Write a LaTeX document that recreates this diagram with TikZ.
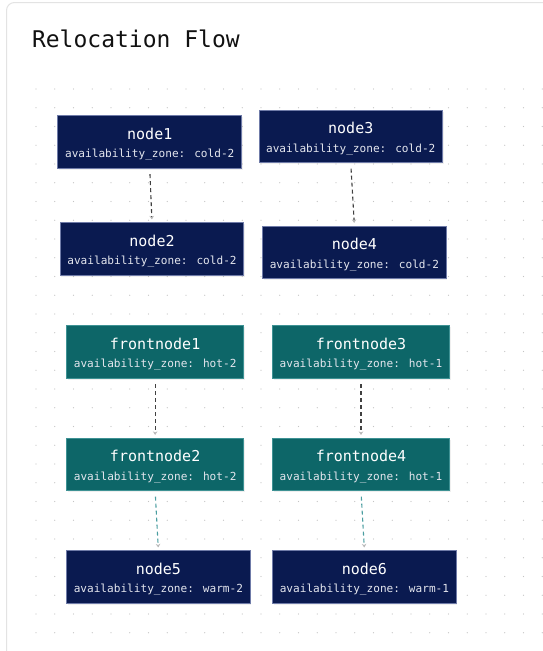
\documentclass[tikz,border=0pt]{standalone}
\usepackage{fontspec}
\usetikzlibrary{arrows.meta,shadows}
\newfontfamily\monofont{DejaVu Sans Mono}
\newcommand{\subfnt}{\monofont\fontsize{11.1}{16.5}\selectfont}
\newcommand{\namefnt}{\fontsize{15}{16.5}\selectfont}
\definecolor{navy}{HTML}{0A1A50}
\definecolor{navyedge}{HTML}{6F7BA8}
\definecolor{tealfill}{HTML}{0D6668}
\definecolor{tealedge}{HTML}{3E9294}
\definecolor{subtxt}{HTML}{E4E6EE}
\definecolor{darkdash}{HTML}{404040}
\definecolor{tealdash}{HTML}{4A9EA0}
\definecolor{dotcol}{HTML}{C4C4C4}
\definecolor{cardedge}{HTML}{E3E3E3}
\definecolor{titlecol}{HTML}{111111}
\tikzset{
  basebox/.style={rectangle, minimum height=52.5pt, inner sep=0pt, align=center,
    text=subtxt, font=\subfnt, line width=0.7pt,
    drop shadow={shadow xshift=1pt, shadow yshift=-1.5pt, opacity=0.12}},
  navybox/.style={basebox, fill=navy, draw=navyedge},
  tealbox/.style={basebox, fill=tealfill, draw=tealedge},
  flowdark/.style={draw=darkdash, line width=1.1pt, dash pattern=on 4pt off 3pt,
    shorten <=5.5pt, shorten >=3pt,
    -{Stealth[length=3.5pt,width=4.5pt,color=gray!55]}},
  flowteal/.style={flowdark, draw=tealdash},
}
\newcommand{\nm}[1]{{\color{white}\namefnt\rule{0pt}{15.5pt}#1}}
\begin{document}
\begin{tikzpicture}[x=1pt,y=-1pt]
\useasboundingbox (0,0) rectangle (543,651);
\fill[white] (0,0) rectangle (543,651);
\draw[cardedge, line width=1pt, rounded corners=8pt] (6.5,2.5) rectangle (570,680);
\foreach \i in {0,...,27}{
  \foreach \j in {0,...,29}{
    \fill[dotcol] ({36+\i*18.75},{89+\j*18.75}) circle (0.65);
  }
}
\node[anchor=base west, text=titlecol, font=\monofont\fontsize{23}{28}\selectfont] (title) at (28.5,47.5) {Relocation Flow};

\node[navybox, minimum width=184pt] (n1) at (149.75,142) {\nm{node1}\\[2pt]availability\_zone: cold-2};
\node[navybox, minimum width=183.5pt] (n3) at (350.75,136.5) {\nm{node3}\\[2pt]availability\_zone: cold-2};
\node[navybox, minimum width=183.6pt] (n2) at (152,249) {\nm{node2}\\[2pt]availability\_zone: cold-2};
\node[navybox, minimum width=183.8pt] (n4) at (354.4,252.5) {\nm{node4}\\[2pt]availability\_zone: cold-2};

\node[tealbox, minimum width=177.3pt] (f1) at (155.15,352) {\nm{frontnode1}\\[2pt]availability\_zone: hot-2};
\node[tealbox, minimum width=177pt] (f3) at (361,352) {\nm{frontnode3}\\[2pt]availability\_zone: hot-1};
\node[tealbox, minimum width=177.3pt] (f2) at (155.15,464.5) {\nm{frontnode2}\\[2pt]availability\_zone: hot-2};
\node[tealbox, minimum width=177pt] (f4) at (361,464.5) {\nm{frontnode4}\\[2pt]availability\_zone: hot-1};

\node[navybox, minimum width=183.8pt] (n5) at (158.4,577) {\nm{node5}\\[2pt]availability\_zone: warm-2};
\node[navybox, minimum width=183.9pt] (n6) at (364.45,577) {\nm{node6}\\[2pt]availability\_zone: warm-1};

\draw[flowdark] (n1.south) -- (n2.north);
\draw[flowdark] (n3.south) -- (n4.north);
\draw[flowdark] (f1.south) -- (f2.north);
\draw[flowdark] (f3.south) -- (f4.north);
\draw[flowteal] (f2.south) -- (n5.north);
\draw[flowteal] (f4.south) -- (n6.north);
\end{tikzpicture}
\end{document}
